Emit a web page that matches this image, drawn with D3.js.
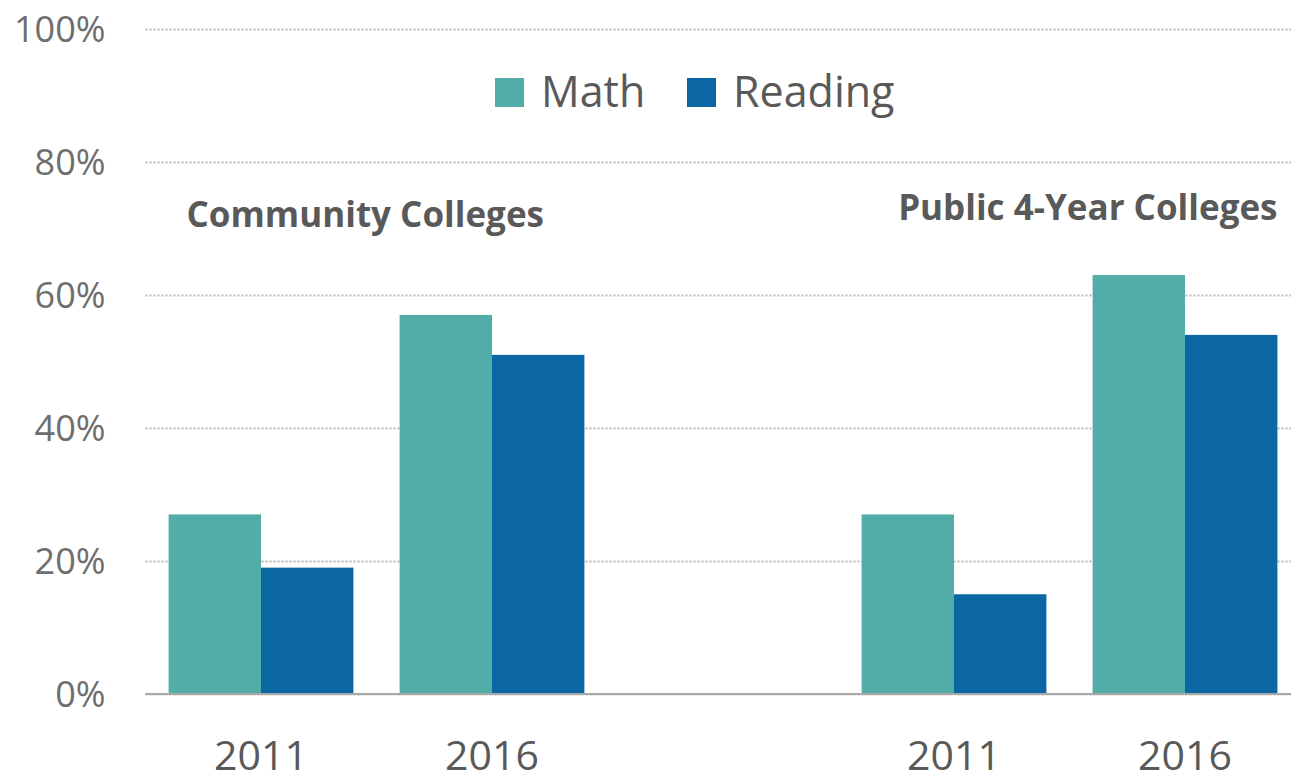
<html>
<head>
<meta charset="utf-8">
<style>
  body { margin: 0; background: #fff; }
  text { font-family: "Open Sans", sans-serif; }
</style>
</head>
<body>
<script src="https://cdn.jsdelivr.net/npm/d3@7"></script>
<script>
// data
var groups = ['Community Colleges', 'Public 4-Year Colleges']
var years = ['2011', '2016']
var series = ['Math', 'Reading']
var mathValues = [[0.27, 0.57], [0.27, 0.63]]
var readingValues = [[0.19, 0.51], [0.15, 0.54]]
var yTicks = [0, 0.2, 0.4, 0.6, 0.8, 1.0]
var colors = ['#52ada9', '#0a67a3']

var width = 1291, height = 781
var svg = d3.select('body').append('svg')
    .attr('width', width)
    .attr('height', height)

var padding = {left: 145.5, right: 1300.5, top: 29, bottom: 694}

// scales
var xGroup = d3.scaleBand().domain(groups).range([padding.left, padding.right]).paddingInner(1/3).paddingOuter(0)
var xYear = d3.scaleBand().domain(years).range([0, xGroup.bandwidth()]).paddingInner(0.2).paddingOuter(0.1)
var xSeries = d3.scaleBand().domain(series).range([0, xYear.bandwidth()])
var y = d3.scaleLinear().domain([0, 1]).range([padding.bottom, padding.top])

// y axis with gridlines
var yAxis = svg.append('g')
    .attr('transform', 'translate(' + padding.left + ',0)')
    .call(d3.axisLeft(y).tickValues(yTicks)
        .tickFormat(d3.format('.0%'))
        .tickSizeInner(-(width - padding.left))
        .tickSizeOuter(0)
        .tickPadding(40))
yAxis.select('.domain').remove()
yAxis.selectAll('.tick line')
    .attr('stroke', '#b5b5b5')
    .attr('stroke-width', 2)
    .attr('stroke-dasharray', '2,2')
yAxis.selectAll('.tick text')
    .attr('fill', '#6e6e6e')
    .style('font-size', '36px')
    .attr('dy', '0.36em')

// bars
var rows = []
groups.forEach(function(g, gi){
    years.forEach(function(yr, yi){
        rows.push({group: g, year: yr, series: 'Math', value: mathValues[gi][yi], c: colors[0]})
        rows.push({group: g, year: yr, series: 'Reading', value: readingValues[gi][yi], c: colors[1]})
    })
})
svg.append('g').selectAll('rect')
    .data(rows)
    .enter()
    .append('rect')
    .attr('x', function(d){ return xGroup(d.group) + xYear(d.year) + xSeries(d.series) })
    .attr('width', xSeries.bandwidth())
    .attr('y', function(d){ return y(d.value) })
    .attr('height', function(d){ return y(0) - y(d.value) })
    .attr('fill', function(d){ return d.c })

// baseline
svg.append('line')
    .attr('x1', padding.left).attr('x2', width)
    .attr('y1', y(0)).attr('y2', y(0))
    .attr('stroke', '#a8a8a8')
    .attr('stroke-width', 2)

// year labels under each group
groups.forEach(function(g){
    var ax = svg.append('g')
        .attr('transform', 'translate(' + xGroup(g) + ',' + y(0) + ')')
        .call(d3.axisBottom(xYear).tickSize(0).tickPadding(47))
    ax.select('.domain').remove()
    ax.selectAll('text')
        .attr('fill', '#595959')
        .style('font-size', '41px')
})

// group titles
svg.append('text')
    .attr('x', xGroup(groups[0]) + 41)
    .attr('y', 227)
    .attr('fill', '#595959')
    .style('font-size', '35px')
    .style('font-weight', 'bold')
    .text(groups[0])
svg.append('text')
    .attr('x', xGroup(groups[1]) + xGroup.bandwidth() - 23)
    .attr('y', 220)
    .attr('text-anchor', 'end')
    .attr('fill', '#595959')
    .style('font-size', '35px')
    .style('font-weight', 'bold')
    .text(groups[1])

// legend
var legendX = [495, 687]
var legend = svg.append('g').selectAll('g')
    .data(series)
    .enter()
    .append('g')
    .attr('transform', function(d, i){ return 'translate(' + legendX[i] + ',78)' })
legend.append('rect')
    .attr('width', 29).attr('height', 29)
    .attr('fill', function(d, i){ return colors[i] })
legend.append('text')
    .attr('x', 46).attr('y', 29)
    .attr('fill', '#595959')
    .style('font-size', '43px')
    .text(function(d){ return d })
</script>
</body>
</html>
